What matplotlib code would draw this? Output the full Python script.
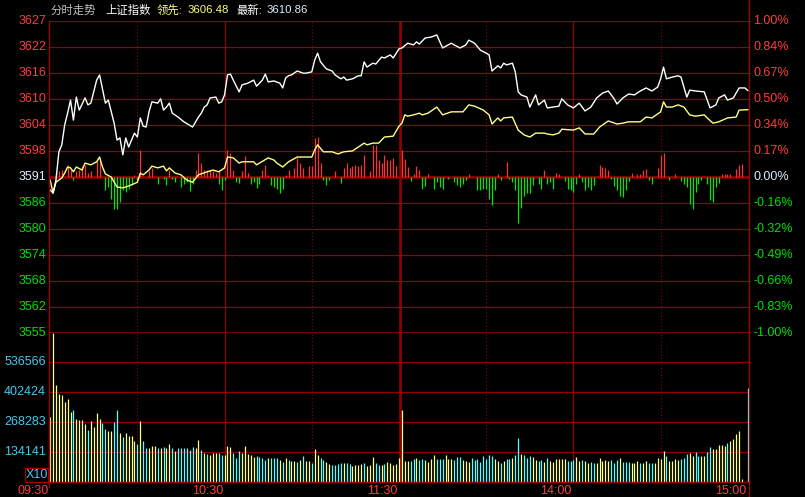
import matplotlib
matplotlib.use('Agg')
import matplotlib.pyplot as plt
from matplotlib.lines import Line2D
from matplotlib.patches import Rectangle
import numpy as np

W, H = 805, 497
BASE = 3591.0  # previous close

# minute index: 0 = 09:30, 120 = 11:30, 121 = 13:01, 240 = 15:00
price_t = [0, 1, 2, 3, 4, 5, 6, 7, 8, 9, 10, 12, 13, 14, 16, 17, 19, 20, 22, 23,
           24, 25, 26, 27, 28, 29, 30, 31, 32, 33, 34, 35, 37, 38, 39, 40, 41, 42, 44, 46,
           49, 51, 52, 53, 54, 55, 57, 58, 59, 60, 61, 62, 63, 65, 66, 68, 70, 71, 73, 74,
           75, 77, 79, 80, 81, 82, 83, 85, 87, 88, 90, 91, 92, 93, 95, 97, 98, 100, 101, 102,
           104, 106, 107, 108, 109, 111, 112, 114, 115, 117, 118, 120, 121, 123, 125, 126, 127, 129, 131, 133,
           135, 138, 139, 141, 143, 144, 146, 148, 150, 151, 152, 154, 155, 156, 157, 159, 160, 161, 162, 164,
           165, 167, 168, 170, 171, 173, 175, 176, 178, 180, 182, 184, 186, 188, 190, 192, 194, 195, 197, 199,
           201, 203, 205, 207, 209, 210, 211, 212, 214, 216, 217, 219, 220, 222, 225, 227, 229, 230, 232, 233,
           235, 237, 239, 240]
price_v = [3588.0, 3587.3, 3590.3, 3596.8, 3598.4, 3603.0, 3605.7, 3608.7, 3604.1, 3609.4,
           3606.4, 3609.2, 3607.6, 3608.0, 3613.3, 3614.5, 3608.0, 3608.7, 3603.4, 3599.5,
           3600.0, 3596.1, 3600.0, 3597.9, 3599.5, 3601.1, 3600.2, 3604.6, 3602.7, 3602.5,
           3606.0, 3608.3, 3608.0, 3609.0, 3606.4, 3607.1, 3608.0, 3605.7, 3604.8, 3603.7,
           3602.5, 3604.8, 3605.7, 3607.1, 3607.6, 3609.2, 3609.4, 3608.0, 3608.3, 3609.9,
           3614.5, 3614.7, 3613.3, 3610.6, 3612.2, 3612.6, 3613.3, 3611.9, 3613.3, 3614.7,
           3612.9, 3613.1, 3612.6, 3611.5, 3613.8, 3614.3, 3614.5, 3615.4, 3614.9, 3614.9,
           3615.2, 3617.9, 3619.5, 3617.5, 3615.9, 3615.4, 3614.5, 3613.6, 3614.0, 3613.3,
           3613.6, 3614.3, 3614.3, 3617.5, 3616.3, 3617.2, 3617.0, 3618.6, 3618.4, 3619.1,
           3618.4, 3620.5, 3620.7, 3621.8, 3621.4, 3622.1, 3621.6, 3623.0, 3623.2, 3623.7,
           3620.7, 3621.8, 3621.4, 3620.7, 3621.4, 3622.5, 3621.8, 3620.2, 3619.5, 3619.1,
           3615.4, 3616.6, 3616.1, 3617.2, 3616.8, 3617.2, 3615.2, 3610.6, 3609.9, 3609.4,
           3607.1, 3609.9, 3607.6, 3608.7, 3606.9, 3607.1, 3607.3, 3609.0, 3607.6, 3606.9,
           3608.0, 3606.2, 3607.1, 3609.2, 3610.3, 3610.8, 3609.0, 3607.8, 3609.2, 3610.1,
           3609.9, 3610.8, 3611.5, 3610.8, 3611.7, 3613.6, 3616.3, 3613.6, 3614.0, 3614.3,
           3614.0, 3609.4, 3611.0, 3610.8, 3610.6, 3606.9, 3607.6, 3609.2, 3609.9, 3608.7,
           3609.2, 3611.5, 3611.5, 3610.9]

lead_t = [0, 1, 2, 4, 5, 6, 7, 8, 9, 11, 12, 14, 16, 17, 18, 19, 21, 23, 25, 26,
          28, 30, 31, 32, 34, 35, 37, 39, 40, 41, 43, 45, 47, 49, 51, 54, 56, 58, 60, 61,
          63, 65, 66, 70, 71, 75, 77, 78, 80, 82, 85, 87, 90, 91, 92, 94, 97, 99, 101, 104,
          106, 108, 109, 111, 113, 115, 118, 120, 121, 122, 123, 125, 127, 128, 130, 133, 135, 138, 140, 142,
          144, 146, 149, 151, 152, 154, 155, 156, 159, 161, 163, 165, 167, 170, 171, 173, 175, 176, 180, 182,
          184, 187, 189, 192, 195, 197, 199, 203, 205, 207, 210, 211, 212, 214, 216, 218, 220, 222, 225, 226,
          228, 230, 233, 236, 237, 240]
lead_v = [3590.3, 3587.3, 3589.8, 3590.8, 3591.9, 3593.3, 3593.1, 3592.2, 3593.3, 3592.6,
          3594.2, 3593.8, 3594.5, 3595.6, 3593.3, 3591.7, 3591.0, 3588.7, 3588.5, 3588.7,
          3589.2, 3589.8, 3591.9, 3591.5, 3592.6, 3593.5, 3593.1, 3593.5, 3592.4, 3593.1,
          3591.9, 3591.5, 3590.3, 3589.8, 3591.5, 3592.2, 3592.6, 3592.2, 3593.1, 3595.6,
          3595.4, 3594.2, 3594.5, 3594.5, 3593.8, 3595.4, 3594.9, 3594.2, 3593.3, 3594.5,
          3595.6, 3595.6, 3595.6, 3597.2, 3598.4, 3596.8, 3596.8, 3596.3, 3596.8, 3597.0,
          3597.9, 3598.8, 3598.4, 3598.8, 3598.8, 3600.2, 3600.4, 3602.7, 3603.4, 3605.3,
          3605.0, 3605.3, 3605.7, 3605.3, 3605.7, 3607.1, 3605.3, 3606.0, 3606.0, 3606.0,
          3607.6, 3607.3, 3606.4, 3605.3, 3603.2, 3604.6, 3603.9, 3604.6, 3604.8, 3601.8,
          3600.7, 3600.2, 3601.1, 3601.1, 3600.9, 3600.7, 3601.1, 3602.0, 3601.8, 3602.3,
          3600.9, 3600.9, 3602.5, 3603.9, 3603.2, 3603.4, 3603.7, 3603.7, 3604.8, 3604.6,
          3606.0, 3608.3, 3607.1, 3607.1, 3607.6, 3607.1, 3605.3, 3605.0, 3605.3, 3604.6,
          3603.4, 3603.7, 3604.6, 3604.8, 3606.4, 3606.5]

# buy/sell strength bars, units of 0.001 %
red_t = [2, 3, 4, 6, 7, 9, 10, 11, 12, 13, 14, 16, 17, 29, 31, 34, 35, 41, 50, 51,
         52, 53, 54, 55, 56, 57, 58, 61, 62, 63, 66, 67, 68, 73, 74, 75, 81, 82, 84, 85,
         86, 87, 89, 90, 91, 92, 93, 98, 101, 102, 103, 104, 105, 106, 107, 108, 110, 111, 112, 113,
         114, 115, 116, 117, 118, 119, 121, 122, 123, 125, 126, 127, 130, 144, 154, 157, 170, 174, 175, 182,
         189, 190, 191, 192, 200, 202, 203, 204, 205, 209, 210, 211, 215, 231, 232, 233, 234, 236, 237, 238]
red_v = [26, 37, 47, 79, 47, 37, 47, 69, 79, 26, 37, 111, 111, 15, 175, 37, 58, 47, 47, 154,
         90, 47, 47, 47, 37, 26, 37, 171, 154, 47, 37, 133, 26, 47, 79, 15, 15, 47, 58, 122,
         90, 58, 69, 69, 250, 254, 90, 37, 58, 90, 58, 69, 79, 69, 79, 139, 37, 207, 207, 111,
         90, 139, 111, 111, 122, 69, 173, 113, 64, 17, 69, 43, 21, 17, 17, 94, 43, 28, 17, 17,
         75, 64, 60, 47, 28, 17, 21, 47, 53, 60, 139, 156, 17, 21, 21, 17, 21, 53, 75, 85]
green_t = [8, 19, 20, 21, 22, 23, 24, 25, 26, 27, 28, 30, 37, 39, 40, 42, 43, 45, 46, 47,
           48, 49, 58, 59, 60, 64, 65, 69, 70, 71, 72, 76, 77, 78, 79, 80, 94, 95, 96, 100,
           124, 128, 129, 132, 133, 134, 135, 137, 139, 140, 141, 142, 143, 147, 148, 149, 150, 151, 152, 153,
           155, 158, 159, 160, 161, 162, 163, 164, 165, 166, 168, 169, 171, 172, 173, 177, 178, 179, 180, 181,
           183, 184, 185, 186, 187, 193, 194, 195, 196, 197, 198, 199, 206, 207, 213, 217, 218, 219, 220, 221,
           222, 223, 224, 226, 227, 228, 229, 230]
green_v = [21, 85, 64, 139, 203, 203, 160, 85, 96, 75, 53, 21, 43, 11, 53, 11, 32, 64, 43, 32,
           90, 43, 43, 81, 21, 32, 38, 43, 32, 69, 43, 53, 64, 75, 101, 75, 21, 53, 21, 38,
           26, 75, 60, 75, 32, 64, 75, 11, 32, 53, 64, 43, 17, 81, 81, 75, 75, 139, 178, 81,
           21, 11, 32, 81, 295, 199, 124, 103, 103, 53, 43, 75, 43, 32, 75, 26, 75, 81, 96, 43,
           32, 81, 64, 81, 53, 11, 60, 85, 124, 128, 85, 26, 17, 43, 17, 26, 43, 64, 171, 203,
           96, 43, 17, 43, 149, 160, 64, 38]

# volume per minute, thousands (display is X10)
vol_k = [292, 668, 434, 393, 389, 359, 371, 314, 322, 280,
         277, 277, 259, 233, 273, 247, 307, 282, 262, 237,
         228, 228, 270, 322, 218, 203, 218, 206, 206, 185,
         168, 273, 183, 154, 154, 161, 161, 151, 154, 155,
         154, 170, 151, 139, 154, 154, 151, 154, 143, 155,
         151, 188, 143, 131, 125, 122, 131, 131, 128, 121,
         121, 161, 155, 131, 109, 139, 131, 161, 125, 121,
         110, 116, 113, 109, 98, 106, 109, 109, 109, 98,
         91, 106, 98, 94, 94, 91, 98, 116, 94, 94,
         83, 149, 121, 109, 98, 91, 80, 76, 76, 80,
         86, 86, 86, 80, 73, 76, 76, 80, 86, 72,
         76, 113, 83, 76, 76, 80, 91, 86, 76, 80,
         109,
         322, 94, 94, 94, 101, 106, 98, 101, 98, 88,
         101, 121, 101, 101, 101, 121, 101, 101, 98, 110,
         110, 98, 95, 88, 106, 98, 101, 91, 116, 101,
         121, 116, 101, 94, 83, 94, 101, 101, 109, 121,
         195, 125, 121, 106, 116, 110, 98, 94, 98, 88,
         106, 94, 88, 101, 101, 101, 101, 94, 94, 98,
         110, 94, 98, 94, 83, 88, 83, 83, 106, 94,
         98, 94, 98, 83, 98, 106, 88, 88, 88, 83,
         83, 94, 83, 83, 94, 83, 83, 83, 106, 101,
         139, 116, 94, 94, 101, 98, 101, 106, 125, 131,
         116, 133, 116, 116, 116, 133, 155, 148, 148, 165,
         165, 161, 173, 185, 192, 213, 228, 13, 0, 419]
vol_col = ("YYYYYYYYCY" "YYYCYYYYCC" "YYCCYCYYYY" "CYCCYYYCYC" "YYCYCCCCCC" "YYCYCYYYCC"
           "YYYCCCYYYY" "YCCCCYCCCY" "CYCYYCYCYY" "CYYCCYYCCC" "CYCCYYYYCY" "YYCCYCYYYYY"
           "YYYCCYCCYY" "YYCCCYYYCC" "CYYYCCCCCC" "CCYYCYCCYC" "CYCCCYYCCY" "CYYYYYYCCC"
           "YYCYYCCYYY" "YYCCCYCCCY" "YYCYYCCYYY" "YCYYYYCCCY" "YCCYYCCYYY" "YYCYYYYYYC")

left_labels = ['3627', '3622', '3616', '3610', '3604', '3598', '3591',
               '3586', '3580', '3574', '3568', '3562', '3555']
right_labels = ['1.00%', '0.84%', '0.67%', '0.50%', '0.34%', '0.17%', '0.00%',
                '-0.16%', '-0.32%', '-0.49%', '-0.66%', '-0.83%', '-1.00%']
vol_ticks = [134141, 268283, 402424, 536566]
time_labels = ['09:30', '10:30', '11:30', '14:00', '15:00']
time_pos = [0, 60, 120, 180, 240]

RED = '#ff3c3c'
GREEN = '#00e000'
WHITE_BLUE = '#dcefff'
GRID = '#940000'
GRID_HI = '#8c0000'
BORDER = '#a00000'
VOL_TXT = '#46c8f0'
FS = 9.0

plt.rcParams['font.family'] = ['Liberation Sans', 'Noto Sans CJK SC']

fig = plt.figure(figsize=(W / 100, H / 100), dpi=100, facecolor='black')


def fpos(x, y):
    return x / W, 1 - y / H


ax_p = fig.add_axes([49 / W, 1 - 333 / H, 700 / W, 312 / H])
ax_v = fig.add_axes([49 / W, 1 - 482 / H, 700 / W, 149 / H])
XL = (-0.4, 240.4)
for ax in (ax_p, ax_v):
    ax.set_facecolor('black')
    ax.set_xlim(*XL)
    ax.set_xticks([])
    ax.set_yticks([])
    for s in ax.spines.values():
        s.set_visible(False)
    for t in (60, 180):
        ax.axvline(t, color=GRID, lw=0.9, zorder=1)
    ax.axvline(120.4, color=GRID_HI, lw=2.0, zorder=1)
    for t in (30, 90, 150, 210):
        ax.axvline(t, color=GRID, lw=0.8, ls=(0, (1, 2)), zorder=1)

# price panel
ax_p.set_ylim(-1, 1)
levels = np.arange(6, -7, -1) / 6.0
for lv in levels:
    if lv == 0 or lv == -1:
        ax_p.axhline(lv, color=GRID_HI, lw=2.0, zorder=2)
    else:
        ax_p.axhline(lv, color=GRID, lw=0.9, zorder=1)

red_pct = np.array(red_v) / 1000.0
green_pct = -np.array(green_v) / 1000.0
ax_p.vlines(red_t, 0, red_pct, color='#ff3232', lw=0.9, zorder=3)
ax_p.vlines(green_t, 0, green_pct, color='#00e600', lw=0.9, zorder=3)

price_pct = (np.array(price_v) / BASE - 1) * 100
lead_pct = (np.array(lead_v) / BASE - 1) * 100
ax_p.plot(lead_t, lead_pct, color='#ffff80', lw=1.0, zorder=4, clip_on=False)
ax_p.plot(price_t, price_pct, color='white', lw=1.0, zorder=5, clip_on=False)

ytr = ax_p.get_yaxis_transform()
for i, lv in enumerate(levels):
    c = RED if lv > 0 else (WHITE_BLUE if lv == 0 else GREEN)
    ax_p.text(-3 / 700, lv, left_labels[i], transform=ytr, ha='right', va='center',
              color=c, fontsize=FS, clip_on=False)
    ax_p.text(1 + 4 / 700, lv, right_labels[i], transform=ytr, ha='left', va='center',
              color=c, fontsize=FS, clip_on=False)

# volume panel
vmax = 149 / 30 * vol_ticks[0]
ax_v.set_ylim(0, vmax)
for vt in vol_ticks:
    ax_v.axhline(vt, color=GRID, lw=0.9, zorder=1)
vtr = ax_v.get_yaxis_transform()
for vt in vol_ticks:
    ax_v.text(-3 / 700, vt, str(vt), transform=vtr, ha='right', va='center',
              color=VOL_TXT, fontsize=FS, clip_on=False)
vols = np.array(vol_k) * 1000
cols = ['#ffff8c' if c == 'Y' else '#54ffff' for c in vol_col]
ax_v.vlines(np.arange(len(vols)), 0, vols, colors=cols, lw=0.9, zorder=3)

xtr = ax_v.get_xaxis_transform()
for t, lab in zip(time_pos, time_labels):
    ax_v.text(t - 0.6, -3 / 149, lab, transform=xtr, ha='right', va='top',
              color=RED, fontsize=FS, clip_on=False)

# borders
fig.add_artist(Line2D([749 / W, 749 / W], [0, 1], color=BORDER, lw=1.0))
fig.add_artist(Line2D([49 / W, 49 / W], [1 - 21 / H, 1 - 487 / H], color=BORDER, lw=1.0))
fig.add_artist(Line2D([49 / W, 749 / W], [1 - 482 / H, 1 - 482 / H], color=BORDER, lw=1.0))

# X10 box
x0, y0 = fpos(25, 482)
fig.add_artist(Rectangle((x0, y0), 23 / W, 14 / H, transform=fig.transFigure,
                         fill=False, ec=BORDER, lw=0.9))
fig.text(*fpos(36.5, 475), 'X10', color=VOL_TXT, fontsize=FS, ha='center', va='center')

# title row
title = [(50, '分时走势', '#c0c0c0'), (105, '上证指数', 'white'), (157, '领先:', '#ffff80'),
         (188, '3606.48', '#ffff80'), (236, '最新:', 'white'), (267, '3610.86', WHITE_BLUE)]
for x, s, c in title:
    fig.text(*fpos(x, 10), s, color=c, fontsize=8.2, ha='left', va='center')

fig.savefig('out.png', dpi=100, facecolor='black')
